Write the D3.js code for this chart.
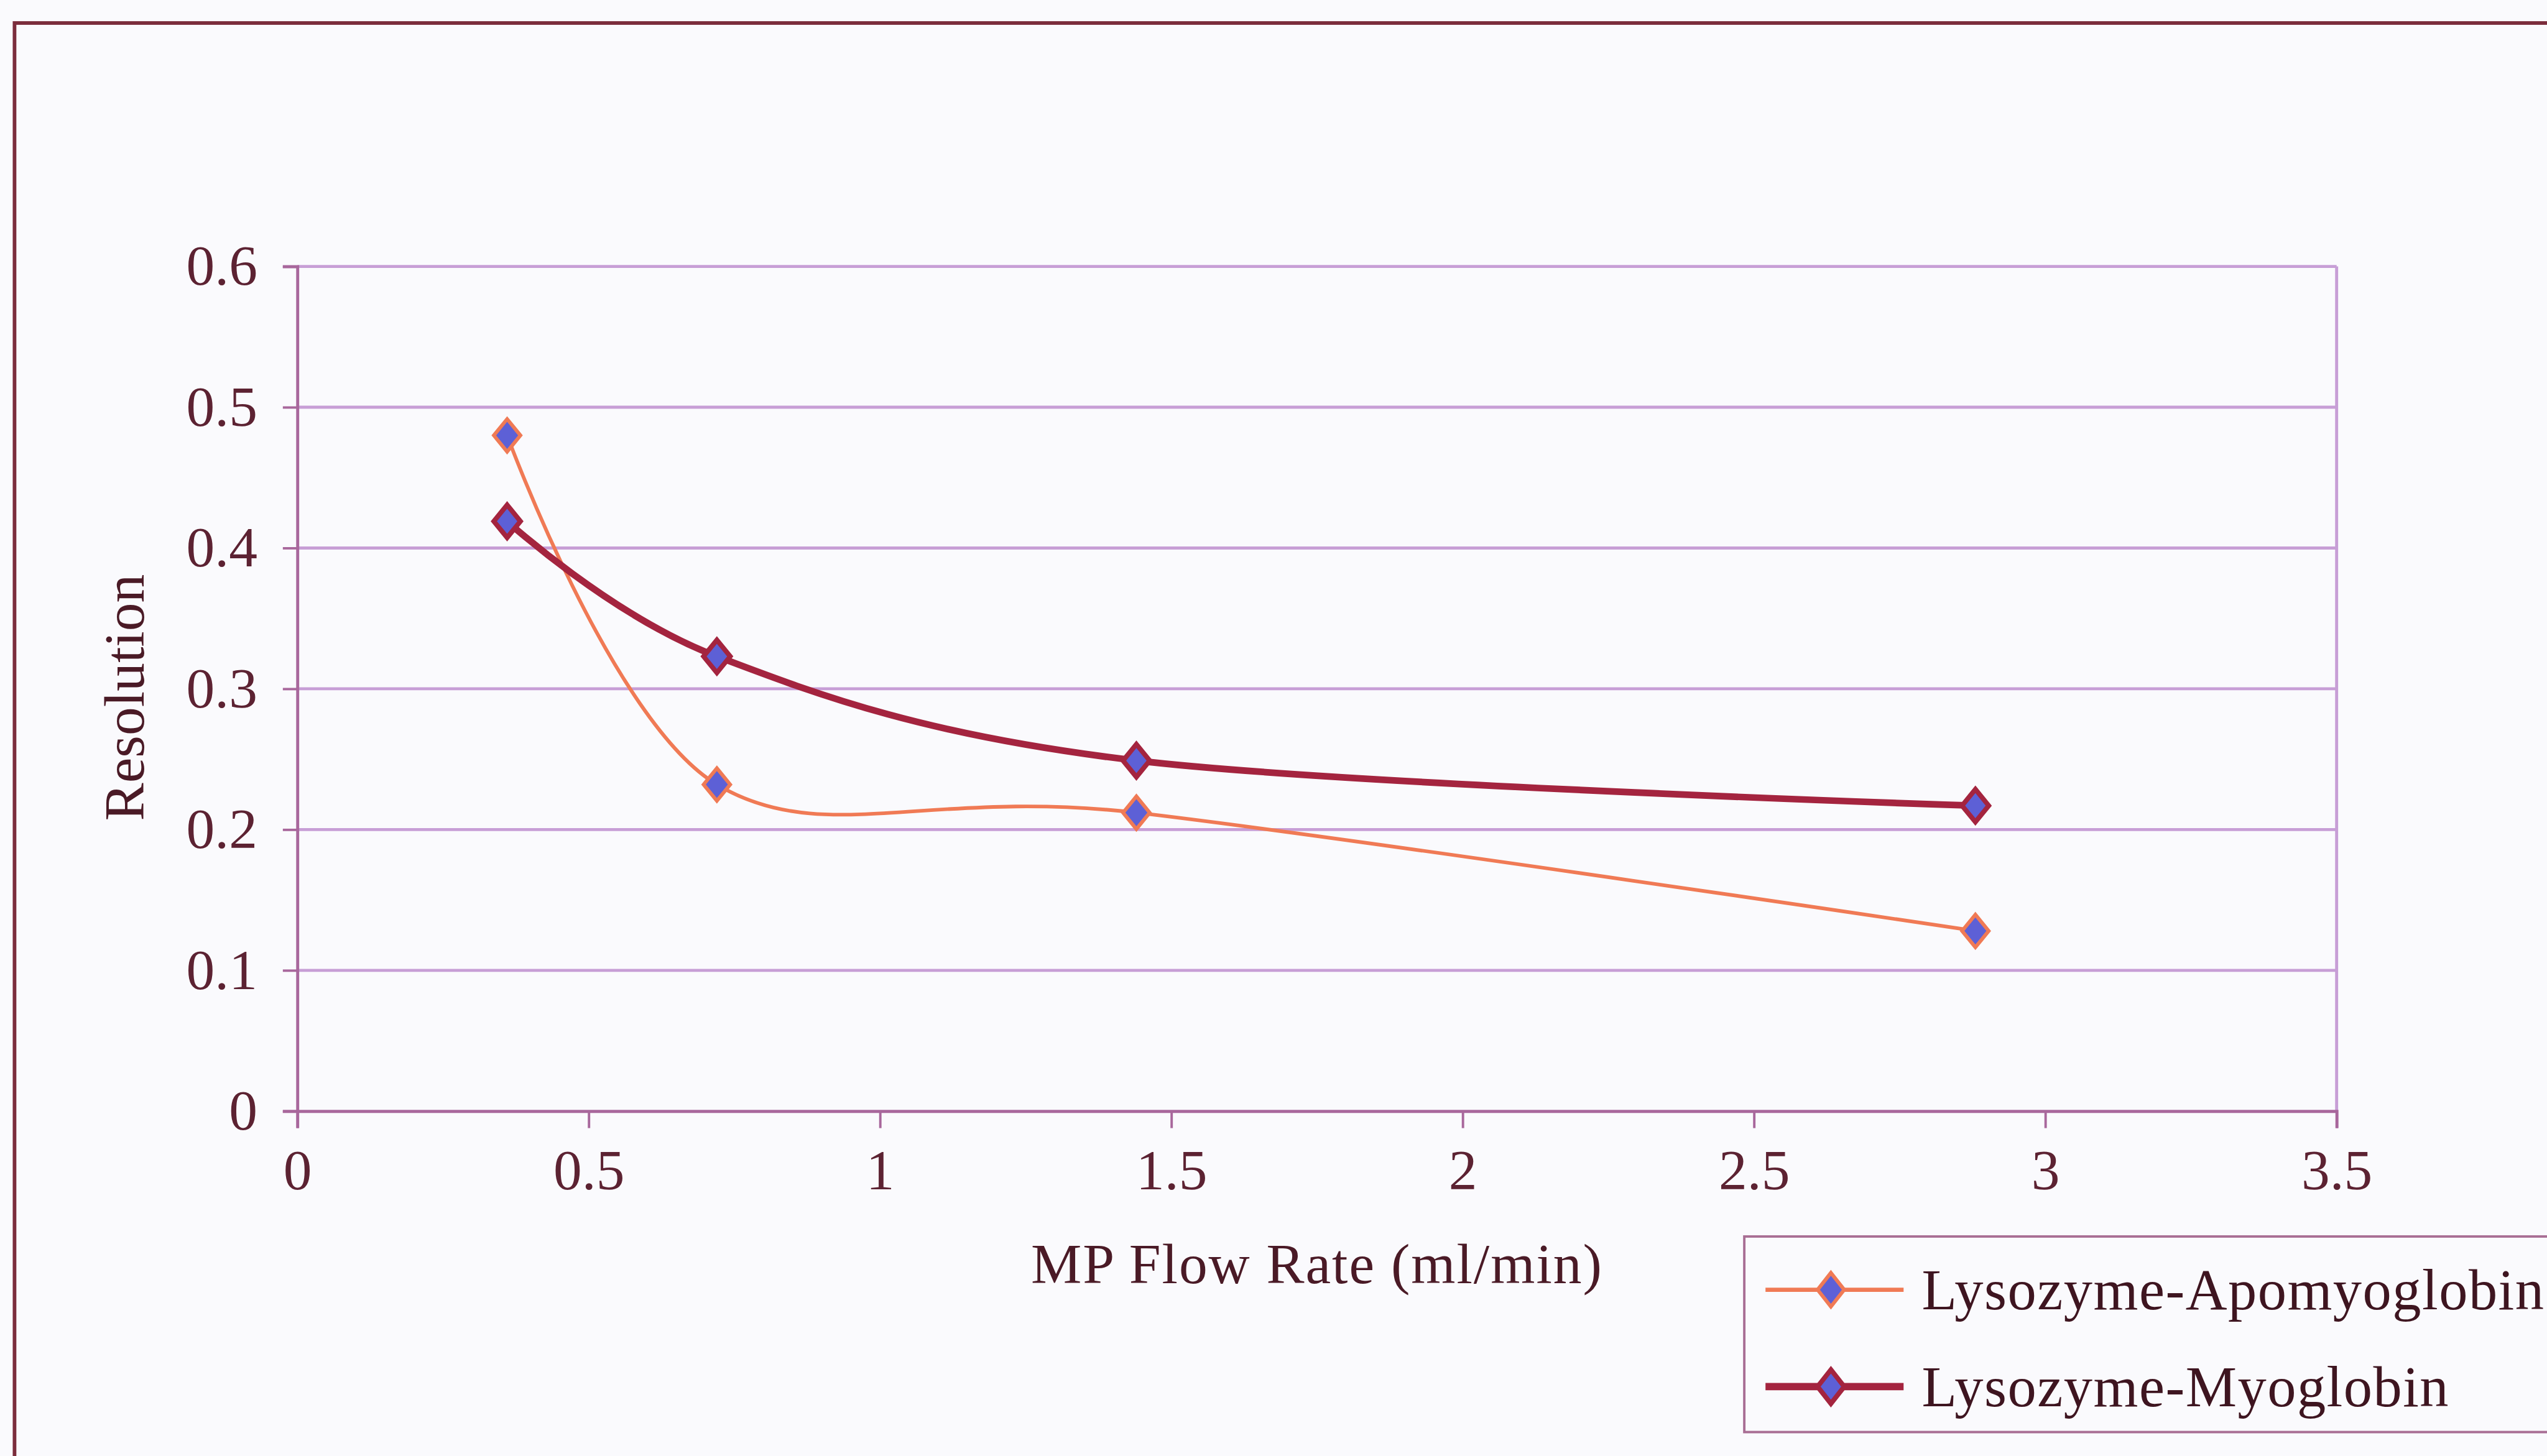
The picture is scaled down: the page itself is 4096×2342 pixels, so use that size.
<!DOCTYPE html>
<html>
<head>
<meta charset="utf-8">
<script src="https://cdn.jsdelivr.net/npm/d3@7"></script>
<style>
  html, body { margin: 0; padding: 0; background: #fafafd; overflow: hidden; }
  svg { display: block; }
  text { font-family: "Liberation Serif", "Times New Roman", serif; }
</style>
</head>
<body>
<svg id="chart" width="4096" height="2342"></svg>
<script>
// Flow rate (ml/min) of the mobile phase
const flowRates = [0.36, 0.72, 1.44, 2.88];
// Resolution for each protein pair
const apomyoglobin = [0.48, 0.232, 0.212, 0.128];
const myoglobin = [0.419, 0.323, 0.249, 0.217];
const seriesNames = ["Lysozyme-Apomyoglobin", "Lysozyme-Myoglobin"];
const xTicks = [0, 0.5, 1, 1.5, 2, 2.5, 3, 3.5];
const yTicks = [0, 0.1, 0.2, 0.3, 0.4, 0.5, 0.6];
const xTitle = "MP Flow Rate (ml/min)";
const yTitle = "Resolution";

const S = 0.974;
const svg = d3.select("#chart");
const root = svg.append("g").attr("transform", `scale(${S})`);

// layout in base units (scaled by S)
const plot = { left: 491, right: 3858, top: 440, bottom: 1835 };
const fontSize = 94;
const textColor = "#4a1a26";
const gridColor = "#c79ed6";
const axisColor = "#a8679c";
const apoColor = "#f07a55";
const myoColor = "#a4243f";
const markerFill = "#5d60d6";

// outer frame
root.append("rect")
  .attr("x", 24).attr("y", 38)
  .attr("width", 4400).attr("height", 2600)
  .attr("fill", "none")
  .attr("stroke", "#7b2d3c")
  .attr("stroke-width", 6);

const x = d3.scaleLinear().domain([0, 3.5]).range([plot.left, plot.right]);
const y = d3.scaleLinear().domain([0, 0.6]).range([plot.bottom, plot.top]);

// horizontal gridlines
root.append("g")
  .selectAll("line")
  .data(yTicks.filter(v => v > 0))
  .join("line")
  .attr("x1", plot.left).attr("x2", plot.right)
  .attr("y1", d => y(d)).attr("y2", d => y(d))
  .attr("stroke", gridColor)
  .attr("stroke-width", 5);

// right border of plot area
root.append("line")
  .attr("x1", plot.right).attr("x2", plot.right)
  .attr("y1", plot.top).attr("y2", plot.bottom)
  .attr("stroke", gridColor)
  .attr("stroke-width", 5);

// y axis
const yAxis = root.append("g")
  .attr("transform", `translate(${plot.left},0)`)
  .call(d3.axisLeft(y).tickValues(yTicks).tickFormat(d => String(d)).tickSize(24).tickPadding(42));
yAxis.select(".domain").attr("stroke", axisColor).attr("stroke-width", 5);
yAxis.selectAll(".tick line").attr("stroke", axisColor).attr("stroke-width", 4);
yAxis.selectAll(".tick text")
  .attr("font-size", fontSize)
  .attr("fill", "#5c2232")
  .attr("font-family", "Liberation Serif, serif");

// x axis
const xAxis = root.append("g")
  .attr("transform", `translate(0,${plot.bottom})`)
  .call(d3.axisBottom(x).tickValues(xTicks).tickFormat(d => String(d)).tickSize(28).tickPadding(34));
xAxis.select(".domain").attr("stroke", axisColor).attr("stroke-width", 5);
xAxis.selectAll(".tick line").attr("stroke", axisColor).attr("stroke-width", 4);
xAxis.selectAll(".tick text")
  .attr("font-size", fontSize)
  .attr("fill", "#5c2232")
  .attr("font-family", "Liberation Serif, serif");

// axis titles
root.append("text")
  .attr("x", (plot.left + plot.right) / 2)
  .attr("y", 2119)
  .attr("text-anchor", "middle")
  .attr("font-size", fontSize)
  .attr("letter-spacing", 2)
  .attr("fill", textColor)
  .text(xTitle);

root.append("text")
  .attr("transform", `translate(237,1152) rotate(-90)`)
  .attr("text-anchor", "middle")
  .attr("font-size", fontSize)
  .attr("fill", textColor)
  .text(yTitle);

// series
const series = [
  { name: seriesNames[0], values: apomyoglobin, color: apoColor, width: 6, mstroke: 6 },
  { name: seriesNames[1], values: myoglobin, color: myoColor, width: 11, mstroke: 8 }
];

const line = d3.line()
  .x(d => x(d[0]))
  .y(d => y(d[1]))
  .curve(d3.curveCardinal.tension(0));

const diamond = (cx, cy, w, h) =>
  `M${cx},${cy - h / 2}L${cx + w / 2},${cy}L${cx},${cy + h / 2}L${cx - w / 2},${cy}Z`;

series.forEach(s => {
  const pts = flowRates.map((f, i) => [f, s.values[i]]);
  root.append("path")
    .attr("d", line(pts))
    .attr("fill", "none")
    .attr("stroke", s.color)
    .attr("stroke-width", s.width)
    .attr("stroke-linejoin", "round");
  root.append("g")
    .selectAll("path")
    .data(pts)
    .join("path")
    .attr("d", d => diamond(x(d[0]), y(d[1]), 44, 54))
    .attr("fill", markerFill)
    .attr("stroke", s.color)
    .attr("stroke-width", s.mstroke)
    .attr("stroke-linejoin", "miter");
});

// legend
const legend = root.append("g");
legend.append("rect")
  .attr("x", 2880).attr("y", 2042)
  .attr("width", 1500).attr("height", 323)
  .attr("fill", "none")
  .attr("stroke", "#a86e94")
  .attr("stroke-width", 4);

series.forEach((s, i) => {
  const ly = 2130 + i * 160;
  legend.append("line")
    .attr("x1", 2915).attr("x2", 3143)
    .attr("y1", ly).attr("y2", ly)
    .attr("stroke", s.color)
    .attr("stroke-width", s.width + 1);
  legend.append("path")
    .attr("d", diamond(3023, ly, 44, 56))
    .attr("fill", markerFill)
    .attr("stroke", s.color)
    .attr("stroke-width", s.mstroke);
  legend.append("text")
    .attr("x", 3173)
    .attr("y", ly + 32)
    .attr("font-size", 95)
    .attr("letter-spacing", 1.5)
    .attr("fill", "#3e1520")
    .text(s.name);
});
</script>
</body>
</html>
